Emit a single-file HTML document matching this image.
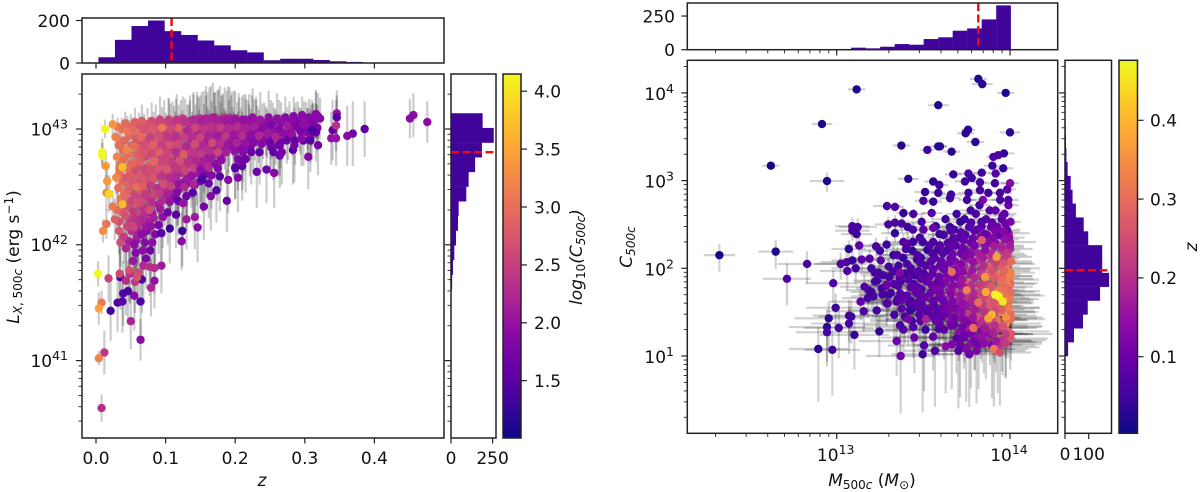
<!DOCTYPE html>
<html lang="en">
<head>
<meta charset="utf-8">
<title>Cluster scaling relations</title>
<style>
html,body{margin:0;padding:0;background:#fff;width:1200px;height:492px;overflow:hidden}
svg{display:block;font-family:"DejaVu Sans","Liberation Sans",sans-serif;fill:#111}
</style>
</head>
<body>
<svg id="figure" xmlns="http://www.w3.org/2000/svg" width="1200" height="492" viewBox="0 0 1200 492">
<defs>
<linearGradient id="plasma" x1="0" y1="1" x2="0" y2="0">
<stop offset="0" stop-color="#0d0887"/><stop offset="0.1" stop-color="#41049d"/><stop offset="0.2" stop-color="#6a00a8"/><stop offset="0.3" stop-color="#8f0da4"/><stop offset="0.4" stop-color="#b12a90"/><stop offset="0.5" stop-color="#cc4778"/><stop offset="0.6" stop-color="#e16462"/><stop offset="0.7" stop-color="#f2844b"/><stop offset="0.8" stop-color="#fca636"/><stop offset="0.9" stop-color="#fcce25"/><stop offset="1" stop-color="#f0f921"/>
</linearGradient>
</defs>
<g id="left-errors"></g>
<g id="right-errors"></g>
<g id="left-points"></g>
<g id="right-points"></g>
<g id="hists"></g>
<rect x="503" y="74" width="18" height="364" fill="url(#plasma)"/>
<rect x="1119" y="60.3" width="18.5" height="373" fill="url(#plasma)"/>
<g fill="none" stroke="#222" stroke-width="1.5">
<rect x="82" y="74" width="362" height="364"/>
<rect x="82" y="18" width="362" height="45"/>
<rect x="451" y="74" width="45" height="364"/>
<rect x="503" y="74" width="18" height="364"/>
<rect x="687.3" y="60.3" width="370.4" height="373"/>
<rect x="687.3" y="3" width="370.4" height="46.7"/>
<rect x="1065" y="60.3" width="46.5" height="373"/>
<rect x="1119" y="60.3" width="18.5" height="373"/>
</g>
<g id="ticks"></g>
<text transform="translate(19,257) rotate(-90)" text-anchor="middle" font-size="17"><tspan font-style="italic">L</tspan><tspan font-size="12" dy="3"><tspan font-style="italic">X</tspan>, 500<tspan font-style="italic">c</tspan></tspan><tspan dy="-3"> (erg s</tspan><tspan font-size="12" dy="-6">−1</tspan><tspan dy="6">)</tspan></text>
<text x="262" y="486" text-anchor="middle" font-size="17" font-style="italic">z</text>
<text transform="translate(582,257) rotate(-90)" text-anchor="middle" font-size="17" font-style="italic">log<tspan font-size="12" dy="3" font-style="normal">10</tspan><tspan dy="-3">(C</tspan><tspan font-size="12" dy="3">500c</tspan><tspan dy="-3">)</tspan></text>
<text transform="translate(632,247) rotate(-90)" text-anchor="middle" font-size="17" font-style="italic">C<tspan font-size="12" dy="3">500c</tspan></text>
<text x="872" y="486" text-anchor="middle" font-size="17"><tspan font-style="italic">M</tspan><tspan font-size="12" dy="3">500<tspan font-style="italic">c</tspan></tspan><tspan dy="-3"> (</tspan><tspan font-style="italic">M</tspan><tspan font-size="12" dy="3">⊙</tspan><tspan dy="-3">)</tspan></text>
<text transform="translate(1197,247) rotate(-90)" text-anchor="middle" font-size="17" font-style="italic">z</text>
</svg>
<script>
// Left panel: redshift, log10 luminosity, log10 C500c, log10 error
const lxRedshift = [
.15,.16,.17,.175,.18,.185,.19,.195,.205,.21,.105,.115,.125,.135,.145,.155,.165,.22,.225,.23,
.14,.148,.158,.168,.172,.178,.182,.192,.198,.215,.037,.035,.039,.036,.034,.038,.041,.036,.039,.033,
.05,.048,.052,.047,.051,.049,.053,.046,.05,.052,.049,.051,.047,.062,.064,.06,.063,.065,.059,.061,
.064,.06,.062,.065,.059,.063,.061,.058,.074,.076,.072,.075,.071,.077,.073,.076,.07,.074,.078,.072,
.076,.073,.086,.088,.084,.087,.083,.089,.085,.082,.088,.084,.09,.081,.098,.1,.096,.099,.095,.101,
.097,.102,.094,.099,.11,.112,.108,.113,.107,.111,.109,.114,.106,.11,.122,.124,.12,.125,.119,.123,
.121,.126,.118,.135,.133,.137,.132,.136,.134,.138,.131,.146,.148,.144,.149,.143,.147,.145,.15,.158,
.16,.156,.161,.155,.159,.157,.17,.172,.168,.173,.167,.171,.182,.184,.18,.185,.179,.194,.196,.192,
.197,.206,.208,.204,.209,.218,.22,.216,.221,.23,.232,.228,.242,.244,.24,.254,.256,.252,.266,.268,
.278,.28,.29,.292,.302,.304,.312,.276,.265,.252,.031,.028,.033,.030,.034,.029,.032,.036,.030,.027,
.033,.035,.042,.045,.041,.044,.040,.046,.043,.047,.041,.044,.042,.045,.040,.043,.056,.053,.058,.055,
.059,.054,.057,.052,.058,.055,.060,.053,.057,.054,.059,.055,.057,.053,.066,.069,.065,.07,.067,.064,
.07,.066,.068,.071,.065,.069,.067,.072,.066,.07,.067,.072,.068,.080,.083,.078,.082,.079,.084,.077,
.082,.078,.084,.08,.077,.083,.079,.085,.081,.078,.092,.095,.09,.094,.091,.096,.09,.093,.097,.091,
.095,.092,.096,.09,.094,.104,.107,.102,.106,.103,.108,.102,.105,.107,.103,.106,.116,.119,.114,.118,
.115,.12,.117,.114,.119,.116,.118,.103,.128,.131,.127,.13,.126,.132,.128,.131,.127,.13,.14,.143,
.138,.142,.139,.143,.14,.137,.142,.139,.152,.155,.15,.154,.151,.155,.15,.153,.163,.166,.162,.167,
.163,.165,.161,.166,.162,.176,.179,.174,.178,.175,.18,.175,.178,.188,.191,.186,.19,.187,.2,.203,
.198,.202,.199,.204,.2,.212,.215,.21,.214,.211,.215,.21,.224,.227,.222,.226,.223,.236,.239,.234,
.238,.235,.248,.251,.246,.25,.26,.263,.258,.262,.272,.275,.27,.274,.284,.287,.282,.286,.296,.299,
.294,.298,.306,.309,.304,.308,.316,.312,.322,.318,.013,.024,.009,.009,.014,.016,.015,.019,.038,.038,
.024,.015,.01,.003,.018,.008,.004,.021,.031,.038,.039,.046,.055,.064,.05,.064,.012,.004,.008,.035,
.043,.056,.066,.084,.079,.034,.049,.048,.061,.059,.094,.084,.077,.123,.476,.456,.451,.386,.369,.361,
.346,.346,.34,.345,.345,.338,.319,.305,.308,.316,.31,.319,.316,.283,.285,.267,.264,.295,.256,.245,
.204,.19,.231,.264,.188,.173,.146,.124,.142,.13,.106,.115,.14,.152,.2,.255,.21,.165,.155,.125
];
const lxLogLum = [
43.09,43.07,43.1,43.06,43.08,43.1,43.07,43.09,43.06,43.08,43.08,43.06,43.09,43.07,43.08,43.06,43.07,43.08,43.1,43.07,
43.08,43.07,43.09,43.1,43.06,43.08,43.07,43.09,43.07,43.08,43.0,42.9,42.82,42.7,42.62,42.54,42.45,42.36,42.28,42.2,
43.02,42.94,42.86,42.78,42.7,42.62,42.54,42.46,42.38,42.3,42.22,42.12,42.03,43.03,42.96,42.89,42.82,42.75,42.68,42.61,
42.54,42.47,42.4,42.33,42.26,42.19,42.12,42.04,43.04,42.97,42.9,42.83,42.76,42.69,42.62,42.55,42.48,42.41,42.34,42.27,
42.2,42.12,43.05,42.98,42.91,42.84,42.77,42.7,42.63,42.56,42.49,42.42,42.35,42.27,43.05,42.97,42.9,42.83,42.76,42.69,
42.62,42.55,42.48,42.4,43.04,42.97,42.9,42.83,42.76,42.69,42.62,42.55,42.48,42.41,43.05,42.98,42.91,42.84,42.77,42.7,
42.62,42.54,42.47,43.05,42.98,42.9,42.83,42.76,42.69,42.61,42.53,43.05,42.97,42.9,42.83,42.76,42.69,42.62,42.55,43.04,
42.97,42.9,42.83,42.76,42.69,42.61,43.05,42.98,42.91,42.84,42.77,42.7,43.05,42.98,42.91,42.84,42.77,43.05,42.98,42.91,
42.84,43.05,42.98,42.91,42.84,43.05,42.98,42.91,42.84,43.05,42.98,42.91,43.05,42.98,42.91,43.05,42.98,42.91,43.05,42.97,
43.06,42.99,43.07,43.0,43.07,43.0,43.04,42.93,42.89,42.84,43.02,42.93,42.86,42.76,42.66,42.58,42.49,42.40,42.30,42.22,
42.12,42.02,43.05,42.98,42.90,42.82,42.74,42.66,42.58,42.50,42.42,42.34,42.25,42.16,42.07,41.97,43.06,42.99,42.92,42.85,
42.78,42.71,42.64,42.57,42.5,42.43,42.36,42.29,42.22,42.15,42.07,42.0,41.93,41.86,43.07,43.0,42.93,42.86,42.79,42.72,
42.65,42.58,42.51,42.44,42.37,42.3,42.23,42.16,42.09,42.02,41.95,41.88,41.82,43.07,43.0,42.93,42.86,42.79,42.72,42.65,
42.58,42.51,42.44,42.37,42.3,42.23,42.16,42.09,42.02,41.95,43.08,43.01,42.94,42.87,42.8,42.73,42.66,42.59,42.52,42.45,
42.38,42.31,42.24,42.17,42.1,43.07,43.0,42.93,42.86,42.79,42.72,42.65,42.58,42.51,42.44,42.37,43.08,43.01,42.94,42.87,
42.8,42.73,42.66,42.59,42.52,42.45,42.38,42.28,43.06,42.99,42.92,42.85,42.78,42.71,42.64,42.57,42.5,42.42,43.08,43.01,
42.94,42.87,42.8,42.73,42.66,42.59,42.52,42.45,43.07,43.0,42.93,42.86,42.79,42.72,42.65,42.58,43.09,43.02,42.95,42.88,
42.81,42.74,42.67,42.6,42.53,43.08,43.01,42.94,42.87,42.8,42.73,42.66,42.59,43.08,43.01,42.94,42.87,42.8,43.09,43.02,
42.95,42.88,42.81,42.74,42.67,43.08,43.01,42.94,42.87,42.8,42.74,42.68,43.09,43.02,42.95,42.88,42.8,43.08,43.01,42.94,
42.87,42.8,43.1,43.03,42.96,42.88,43.09,43.0,42.93,42.86,43.1,43.03,42.96,42.9,43.11,43.03,42.95,42.9,43.12,43.05,
42.98,42.9,43.1,43.03,42.97,42.93,43.12,43.06,43.09,43.01,43.0,43.04,42.8,42.77,42.68,42.55,42.45,42.44,42.67,42.35,
42.33,42.18,42.12,41.75,41.71,41.5,41.45,41.43,41.5,41.51,41.58,41.6,41.56,41.51,41.34,41.18,41.07,41.02,40.59,41.72,
41.69,41.68,41.7,41.69,41.63,41.75,41.75,41.78,41.76,41.72,41.82,41.8,41.81,42.03,43.06,43.12,43.09,43.0,42.96,42.94,
43.135,43.1,42.99,43.03,42.92,42.92,42.86,42.76,42.9,42.97,42.99,43.11,43.13,42.82,42.86,42.8,42.86,42.92,42.62,42.65,
42.58,42.56,42.63,42.77,42.38,42.47,42.15,42.12,42.24,42.22,42.14,42.26,42.52,42.56,42.66,42.8,42.72,42.42,42.33,42.36
];
const lxLogConc = [
2.3,2.2,2.4,2.1,2.2,2.3,2.1,2.2,2.0,2.1,2.5,2.4,2.4,2.3,2.3,2.2,2.3,2.0,2.0,2.1,
2.2,2.3,2.2,2.1,2.3,2.2,2.1,2.2,2.0,2.1,3.0,3.1,2.95,3.05,3.0,2.9,3.05,2.85,2.75,2.65,
2.9,2.95,2.85,3.0,2.85,2.8,2.65,2.9,2.55,2.65,2.45,2.3,2.15,2.75,2.9,2.7,2.8,2.95,2.7,2.85,
2.65,2.8,2.5,2.45,2.55,2.25,2.15,1.95,2.7,2.8,2.55,2.75,2.6,2.85,2.6,2.65,2.7,2.45,2.5,2.25,
2.15,1.9,2.6,2.5,2.75,2.55,2.7,2.4,2.6,2.7,2.35,2.55,2.15,2.05,2.55,2.45,2.7,2.5,2.45,2.65,
2.4,2.55,2.25,2.15,2.45,2.6,2.4,2.5,2.7,2.35,2.45,2.15,2.25,1.85,2.4,2.55,2.3,2.45,2.25,2.55,
2.25,2.05,1.95,2.35,2.45,2.25,2.5,2.3,2.45,2.05,1.85,2.3,2.15,2.4,2.25,2.45,2.15,2.05,1.75,2.25,
2.35,2.15,2.4,2.05,2.15,1.85,2.2,2.25,2.35,2.1,2.15,1.9,2.15,2.1,2.25,2.05,1.95,2.05,2.15,2.05,
1.95,2.05,2.1,1.95,1.85,2.0,2.05,1.95,1.8,2.0,1.95,1.75,1.95,2.05,1.85,1.9,2.0,1.75,1.95,1.85,
1.9,1.95,1.85,1.9,1.9,1.85,1.85,1.8,1.75,1.7,3.05,3.15,3.0,3.2,3.05,3.25,3.0,3.1,2.95,2.85,
2.75,2.65,2.95,3.1,2.9,3.2,3.0,2.95,2.75,2.85,2.95,2.65,2.7,2.55,2.45,2.2,2.85,2.95,2.75,3.0,
2.85,2.95,2.65,2.8,3.0,2.55,2.7,2.45,2.35,2.55,2.15,1.95,1.85,2.05,2.85,2.7,2.95,2.65,2.75,2.85,
2.55,2.75,2.85,2.45,2.6,2.35,2.25,2.05,1.95,1.85,1.95,1.75,2.25,2.65,2.75,2.5,2.85,2.6,2.9,2.65,
2.75,2.45,2.55,2.3,2.65,2.15,2.0,1.85,1.95,1.7,2.55,3.1,2.65,2.5,2.85,2.55,2.75,2.4,2.65,2.45,
2.25,2.1,1.95,1.75,1.5,2.5,2.6,2.4,2.7,2.55,2.45,2.75,2.3,2.5,2.15,2.0,2.4,2.85,2.35,2.6,
2.3,2.7,2.45,2.25,2.0,1.85,1.55,1.7,2.35,2.25,2.5,2.25,2.8,2.35,2.55,2.1,2.25,1.7,2.25,2.55,
2.3,2.65,2.4,2.25,2.5,2.0,1.9,1.5,2.15,2.4,2.55,2.25,2.45,2.15,1.95,1.45,2.2,2.35,2.2,2.6,
2.3,2.1,2.25,1.85,1.65,2.15,2.45,2.1,2.3,2.55,1.95,1.8,1.5,2.1,2.25,2.4,2.05,2.15,2.05,2.3,
2.05,2.2,1.95,1.8,1.55,2.0,2.15,2.3,2.0,1.85,1.7,1.5,2.0,2.15,1.95,1.85,1.65,2.05,1.9,2.25,
1.85,1.5,1.95,1.8,2.1,1.65,1.95,1.85,2.2,1.7,1.85,2.1,1.95,1.65,1.85,1.8,2.0,1.6,1.9,1.95,
1.75,1.6,1.85,1.95,1.8,1.85,1.9,1.8,1.85,1.75,4.1,3.35,4.15,4.15,3.4,3.4,3.3,3.9,3.7,3.7,
3.1,3.05,3.3,4.15,2.5,3.1,3.5,1.3,1.4,1.5,1.45,1.4,1.9,1.4,2.2,1.9,2.4,3.2,2.3,1.4,
2.3,2.4,1.4,2.0,2.2,2.6,2.3,2.7,2.6,2.7,2.1,2.3,2.3,1.9,1.9,1.9,1.9,1.55,1.7,1.9,
2.0,1.5,1.55,2.35,2.0,2.0,1.7,1.85,1.5,1.6,1.4,1.9,1.9,1.5,1.7,1.8,1.7,1.9,1.85,1.7,
1.85,1.85,1.7,1.7,1.6,1.5,1.9,1.3,2.1,2.1,1.3,1.5,2.2,1.4,1.5,1.55,1.7,1.85,1.75,2.0
];
const lxLogErr = [
.2,.25,.22,.28,.21,.26,.3,.23,.25,.2,.18,.2,.19,.22,.24,.27,.3,.22,.25,.21,
.24,.2,.28,.3,.26,.29,.24,.27,.26,.22,.1,.13,.11,.15,.12,.14,.16,.13,.17,.15,
.11,.14,.12,.16,.13,.17,.15,.19,.16,.2,.22,.26,.24,.11,.14,.12,.16,.13,.17,.15,
.19,.16,.2,.18,.24,.21,.28,.25,.14,.12,.16,.13,.18,.15,.2,.17,.22,.19,.25,.21,
.28,.24,.16,.13,.17,.14,.18,.15,.2,.17,.23,.19,.26,.22,.2,.17,.19,.16,.21,.18,
.23,.2,.27,.24,.2,.23,.18,.21,.19,.24,.22,.27,.23,.29,.2,.18,.22,.19,.24,.21,
.26,.23,.3,.2,.23,.19,.24,.21,.26,.22,.29,.24,.2,.23,.19,.25,.21,.28,.24,.25,
.22,.19,.25,.21,.27,.24,.26,.22,.2,.24,.21,.27,.24,.2,.23,.19,.26,.24,.21,.23,
.25,.22,.2,.24,.21,.2,.23,.19,.25,.2,.22,.18,.18,.21,.17,.18,.2,.17,.18,.16,
.18,.16,.17,.19,.16,.18,.18,.2,.23,.24,.08,.1,.11,.12,.13,.14,.15,.15,.17,.18,
.2,.21,.1,.13,.11,.12,.14,.16,.15,.17,.16,.19,.2,.22,.23,.24,.12,.11,.13,.14,
.15,.14,.16,.15,.18,.17,.19,.2,.22,.21,.25,.23,.27,.28,.14,.13,.15,.14,.16,.15,
.17,.16,.18,.17,.2,.18,.21,.22,.26,.24,.28,.26,.3,.16,.15,.17,.16,.18,.17,.19,
.18,.2,.19,.22,.21,.24,.23,.27,.26,.28,.2,.18,.19,.17,.2,.18,.21,.19,.22,.2,
.23,.22,.27,.25,.3,.2,.22,.19,.21,.2,.23,.21,.25,.24,.28,.26,.22,.2,.21,.19,
.23,.21,.25,.23,.27,.29,.3,.28,.2,.22,.19,.21,.23,.22,.25,.24,.26,.3,.22,.2,
.21,.23,.22,.25,.24,.27,.28,.3,.25,.22,.2,.23,.24,.27,.28,.3,.27,.22,.21,.24,
.25,.23,.26,.29,.3,.26,.22,.2,.23,.24,.27,.28,.3,.25,.24,.22,.25,.26,.24,.21,
.2,.23,.24,.27,.28,.22,.25,.21,.24,.26,.29,.3,.2,.24,.22,.25,.28,.24,.21,.23,
.24,.28,.23,.22,.21,.26,.22,.25,.24,.26,.18,.16,.19,.2,.17,.2,.18,.21,.16,.19,
.2,.22,.16,.18,.21,.22,.2,.17,.18,.2,.08,.09,.12,.11,.14,.13,.15,.16,.14,.15,
.14,.13,.1,.11,.2,.1,.14,.26,.25,.27,.28,.26,.3,.29,.24,.18,.19,.06,.12,.28,
.3,.27,.29,.24,.25,.28,.26,.27,.24,.23,.24,.22,.25,.25,.18,.19,.17,.24,.28,.26,
.2,.19,.26,.22,.24,.23,.26,.28,.27,.25,.26,.2,.21,.3,.32,.28,.27,.24,.3,.29,
.3,.29,.31,.28,.27,.28,.3,.31,.28,.26,.3,.29,.28,.27,.26,.24,.25,.3,.29,.31
];
const lxTopCounts = [27,109,174,200,150,132,106,83,60,50,13,20,20,14,8,5,0,1,2,1];
const lxSideCounts = [190,257,186,145,106,92,46,42,30,20,12,7,3,1,1,1,0,1,1,1];
const lxMedianZ = [0.1086];
const lxMedianLum = [42.8];
const lxXTicks = [0, 0.1, 0.2, 0.3, 0.4];
const lxXTickLabels = ["0.0", "0.1", "0.2", "0.3", "0.4"];
const lxYTicks = [41, 42, 43];
const lxYTickLabels = ["41", "42", "43"];
const lxCbarTicks = [1.5, 2, 2.5, 3, 3.5, 4];
const lxCbarLabels = ["1.5", "2.0", "2.5", "3.0", "3.5", "4.0"];
const lxTopTicks = [0, 200];
const lxTopLabels = ["0", "200"];
const lxSideTicks = [0, 250];
const lxSideLabels = ["0", "250"];

// Right panel: log10 mass, log10 C500c, redshift, log10 x error, relative y error
const cLogMass = [
13.992,14.001,13.983,14.004,13.987,13.971,13.998,13.978,13.994,14.003,
13.999,13.986,13.973,14.002,13.981,13.997,13.989,13.962,14.005,13.975,
13.991,13.968,14.003,13.982,13.995,13.999,13.972,14.006,13.979,13.996,
13.984,14.002,13.966,13.993,14.004,13.977,13.988,14.001,13.943,13.916,
13.952,13.927,13.938,13.914,13.956,13.931,13.947,13.922,13.949,13.935,
13.941,13.918,13.953,13.926,13.944,13.912,13.958,13.929,13.883,13.862,
13.891,13.868,13.877,13.855,13.894,13.873,13.885,13.859,13.888,13.866,
13.879,13.857,13.893,13.871,13.884,13.861,13.896,13.824,13.803,13.835,
13.812,13.829,13.797,13.818,13.806,13.833,13.794,13.826,13.808,13.837,
13.801,13.822,13.813,13.831,13.796,13.819,13.807,13.752,13.773,13.738,
13.764,13.742,13.776,13.748,13.757,13.736,13.771,13.746,13.761,13.744,
13.768,13.753,13.759,13.734,13.774,13.747,13.692,13.713,13.677,13.704,
13.686,13.717,13.682,13.698,13.694,13.708,13.674,13.702,13.688,13.716,
13.679,13.706,13.691,13.712,13.628,13.653,13.617,13.642,13.633,13.657,
13.622,13.638,13.627,13.649,13.614,13.644,13.631,13.655,13.619,13.572,
13.593,13.557,13.582,13.566,13.596,13.553,13.584,13.569,13.591,13.561,
13.578,13.574,13.588,13.556,13.497,13.523,13.486,13.514,13.503,13.518,
13.489,13.508,13.494,13.526,13.483,13.512,13.437,13.463,13.428,13.452,
13.443,13.458,13.426,13.447,13.434,13.382,13.357,13.393,13.368,13.327,
13.957,13.973,13.964,13.969,13.952,13.977,13.961,13.966,13.955,13.972,
13.963,13.968,13.951,13.976,13.959,13.974,13.953,13.897,13.914,13.903,
13.908,13.893,13.917,13.899,13.912,13.894,13.906,13.902,13.915,13.896,
13.911,13.905,13.918,13.836,13.853,13.842,13.857,13.844,13.848,13.834,
13.856,13.846,13.851,13.839,13.854,13.843,13.858,13.837,13.849,13.776,
13.794,13.785,13.792,13.774,13.787,13.783,13.796,13.777,13.789,13.781,
13.793,13.786,13.788,13.775,13.795,13.716,13.733,13.724,13.737,13.718,
13.728,13.722,13.735,13.714,13.726,13.719,13.731,13.725,13.738,13.657,
13.673,13.662,13.669,13.654,13.676,13.664,13.671,13.659,13.667,13.652,
13.678,13.661,13.596,13.613,13.604,13.617,13.593,13.607,13.598,13.616,
13.602,13.611,13.594,13.537,13.552,13.544,13.557,13.533,13.548,13.541,
13.554,13.535,13.556,13.466,13.484,13.473,13.487,13.464,13.478,13.469,
13.486,13.406,13.424,13.413,13.427,13.404,13.418,13.346,13.363,13.354,
13.367,13.352,13.303,13.284,13.312,13.293,13.242,13.264,13.221,13.184,
13.115,13.586,12.915,12.62,12.944,13.373,13.523,13.586,13.413,13.557,
13.51,13.5,13.29,13.336,13.385,13.442,13.817,13.84,13.975,13.758,
13.744,14.0,13.8,13.596,13.663,13.965,13.932,13.904,13.898,13.961,
13.673,13.76,13.837,13.917,13.592,13.74,13.779,13.827,14.0,13.913,
13.984,13.586,13.654,13.66,13.76,13.827,13.875,13.942,13.844,13.99,
12.323,12.648,12.829,12.713,13.023,12.98,12.994,12.954,12.944,12.944,
13.012,12.894,12.975,13.071,13.084,13.071,13.102,13.246,13.231,13.156,
13.346,13.369,13.448,13.496,13.504,13.567,13.629,13.664,13.702,13.765,
13.907,13.942,13.975,13.061,13.11,13.2,13.057,13.09,13.144,13.13,
13.07,13.227,13.288,13.19,13.254,13.16,13.138,13.18,13.212,13.2,
13.234,13.26,13.288,13.3,13.288,13.332,13.346,13.375,13.375,13.423,
13.394,13.413,13.365,13.385,13.442,13.515,13.477,13.327,13.365,13.09,
13.121,13.09,13.115,13.298,13.336,13.375,13.336,13.41,13.44,13.5,
13.49,13.557,13.548,13.557,13.385,13.41,13.664,13.75,13.923,13.856,
13.86,14.0,13.837,13.895,13.875,13.977,13.788,13.817,13.913,13.935,
13.958,13.3,13.33,13.27,13.25,13.4,13.44,13.22,13.35,13.48
];
const cLogConc = [
2.4,2.22,2.05,1.95,1.87,1.78,1.69,1.6,1.5,1.42,2.3,2.13,2.0,1.83,1.74,1.65,1.55,1.33,1.25,1.16,
2.72,2.62,2.53,2.44,2.35,2.26,2.17,2.08,1.99,1.91,1.82,1.73,1.64,1.55,1.46,1.37,1.28,1.2,2.78,2.66,
2.56,2.47,2.38,2.29,2.2,2.11,2.02,1.93,1.84,1.75,1.66,1.57,1.5,1.41,1.32,1.25,1.18,1.1,2.66,2.56,
2.47,2.38,2.29,2.2,2.11,2.02,1.93,1.84,1.75,1.66,1.57,1.5,1.41,1.32,1.25,1.18,1.12,2.72,2.62,2.53,
2.44,2.35,2.26,2.17,2.08,1.99,1.9,1.81,1.72,1.63,1.54,1.45,1.36,1.27,1.2,1.13,1.06,2.78,2.66,2.56,
2.47,2.38,2.29,2.2,2.11,2.02,1.93,1.84,1.66,1.57,1.48,1.39,1.3,1.21,1.14,1.08,2.62,2.53,2.44,2.35,
2.26,2.17,2.08,1.99,1.9,1.81,1.72,1.63,1.54,1.45,1.36,1.27,1.2,1.13,2.56,2.47,2.38,2.29,2.2,2.11,
2.02,1.93,1.84,1.75,1.66,1.57,1.48,1.39,1.3,2.48,2.39,2.3,2.21,2.12,2.03,1.94,1.85,1.76,1.67,1.58,
1.49,1.4,1.31,1.22,2.3,2.21,2.12,2.03,1.94,1.85,1.76,1.67,1.58,1.49,1.4,1.3,2.2,2.1,2.0,1.92,
1.82,1.72,1.63,1.55,1.4,2.12,2.03,1.94,1.85,2.15,2.6,2.51,2.42,2.33,2.24,2.15,2.06,1.97,1.88,1.79,
1.7,1.61,1.52,1.43,1.34,1.25,1.16,2.52,2.43,2.34,2.25,2.16,2.07,1.98,1.89,1.8,1.71,1.62,1.53,1.44,
1.35,1.26,1.17,2.48,2.39,2.3,2.21,2.12,2.03,1.94,1.85,1.76,1.67,1.58,1.49,1.4,1.31,1.22,1.14,2.52,
2.43,2.34,2.25,2.16,2.07,1.98,1.89,1.8,1.71,1.62,1.53,1.44,1.35,1.26,1.17,2.41,2.32,2.23,2.14,2.05,
1.96,1.87,1.78,1.69,1.6,1.51,1.42,1.33,1.24,2.43,2.34,2.25,2.16,2.07,1.98,1.89,1.8,1.71,1.62,1.53,
1.44,1.35,2.26,2.17,2.08,1.99,1.9,1.81,1.72,1.63,1.54,1.45,1.36,2.26,2.17,2.08,1.99,1.9,1.81,1.72,
1.63,1.54,1.45,2.15,2.06,1.97,1.88,1.79,1.7,1.61,1.52,2.05,1.96,1.87,1.78,1.69,1.6,1.98,1.89,1.8,
1.71,1.65,1.9,1.8,1.72,1.6,1.95,1.7,1.85,1.75,4.04,3.86,3.645,3.17,2.995,3.4,3.35,3.39,3.02,2.99,
2.87,2.77,2.71,2.7,2.63,2.62,4.16,4.1,4.0,3.58,3.54,3.55,3.44,3.39,3.33,3.31,3.29,3.27,3.17,3.14,
3.07,3.08,3.09,3.08,2.95,2.99,3.03,2.98,2.97,2.97,2.9,2.86,2.8,2.84,2.86,2.89,2.86,2.86,2.78,2.78,
2.15,2.19,2.05,1.88,2.05,1.83,1.55,1.43,1.33,1.27,1.32,1.08,1.07,1.46,1.45,1.37,1.24,1.28,1.52,1.51,
1.17,1.0,1.21,1.02,1.12,1.06,1.11,1.13,1.06,1.02,1.08,1.04,1.14,1.97,2.0,2.0,2.07,2.09,2.1,2.26,
2.22,2.25,2.27,2.11,2.09,1.79,1.62,1.66,1.68,1.73,1.86,1.77,1.81,1.7,1.6,1.47,1.62,1.64,1.54,1.52,
1.45,1.42,1.35,1.3,1.33,1.42,1.47,1.96,1.95,2.48,2.47,2.43,2.39,2.5,2.52,2.51,2.4,2.47,2.44,2.44,
2.53,2.46,2.63,2.76,2.3,2.28,1.96,1.75,2.13,1.9,1.73,1.91,2.32,1.47,1.43,1.44,1.32,1.61,1.7,1.68,
1.62,2.02,1.82,1.92,2.2,2.22,2.3,1.95,2.15,2.35
];
const cRedshift = [
.15,.2,.28,.33,.33,.32,.33,.31,.33,.3,.15,.22,.28,.3,.33,.32,.3,.28,.26,.24,
.1,.08,.12,.09,.14,.17,.24,.3,.33,.35,.33,.3,.36,.32,.3,.33,.28,.27,.06,.09,
.07,.11,.09,.14,.22,.2,.28,.31,.3,.32,.33,.28,.34,.3,.22,.25,.2,.2,.07,.08,
.1,.12,.13,.2,.22,.28,.27,.3,.26,.29,.27,.2,.27,.22,.14,.18,.12,.05,.07,.06,
.09,.12,.14,.17,.2,.18,.26,.22,.24,.3,.18,.25,.2,.13,.16,.1,.12,.05,.06,.05,
.08,.07,.11,.12,.16,.2,.17,.26,.2,.16,.22,.12,.17,.1,.14,.13,.05,.04,.06,.07,
.08,.1,.13,.16,.13,.15,.2,.17,.12,.16,.1,.14,.08,.1,.05,.04,.06,.07,.06,.09,
.1,.12,.13,.15,.16,.11,.1,.14,.08,.04,.05,.06,.05,.07,.1,.09,.08,.12,.1,.07,
.08,.1,.06,.09,.05,.04,.05,.07,.06,.09,.07,.1,.08,.06,.07,.05,.04,.05,.06,.05,
.06,.09,.05,.07,.05,.04,.05,.04,.06,.04,.09,.1,.13,.15,.18,.22,.26,.29,.3,.3,
.31,.3,.28,.27,.26,.22,.2,.09,.12,.13,.17,.19,.23,.25,.27,.27,.27,.26,.25,.24,
.2,.18,.16,.08,.1,.12,.14,.17,.2,.22,.23,.23,.24,.22,.21,.2,.17,.15,.14,.07,
.08,.1,.12,.13,.15,.16,.19,.2,.19,.18,.17,.16,.14,.12,.11,.08,.09,.1,.12,.13,
.14,.16,.16,.16,.15,.14,.13,.11,.1,.07,.08,.09,.1,.11,.12,.13,.13,.13,.12,.12,
.11,.1,.08,.08,.09,.1,.1,.11,.11,.1,.1,.09,.09,.07,.07,.08,.09,.09,.1,.1,
.09,.09,.08,.07,.07,.08,.08,.09,.09,.08,.08,.07,.07,.08,.08,.08,.07,.06,.07,.07,
.07,.07,.06,.07,.06,.07,.06,.06,.07,.06,.02,.02,.02,.01,.015,.03,.05,.03,.03,.03,
.04,.06,.06,.07,.04,.06,.02,.03,.02,.03,.03,.03,.03,.03,.03,.04,.06,.07,.05,.04,
.04,.06,.05,.07,.05,.05,.05,.06,.13,.05,.08,.04,.05,.05,.05,.06,.05,.06,.12,.07,
.01,.02,.06,.07,.07,.07,.05,.03,.03,.06,.05,.03,.05,.05,.05,.06,.04,.04,.05,.07,
.1,.11,.1,.05,.07,.07,.14,.12,.07,.1,.32,.25,.22,.07,.05,.05,.07,.04,.08,.08,
.03,.06,.05,.07,.08,.07,.09,.06,.06,.05,.05,.06,.1,.05,.07,.06,.06,.09,.08,.05,
.06,.12,.06,.07,.07,.18,.07,.06,.13,.06,.06,.06,.05,.06,.07,.06,.04,.05,.06,.08,
.05,.1,.07,.04,.07,.09,.3,.33,.37,.36,.38,.33,.28,.4,.38,.35,.3,.3,.47,.47,
.45,.06,.07,.06,.05,.06,.05,.06,.07,.05
];
const cMassErr = [
.12,.13,.16,.14,.18,.12,.2,.15,.17,.2,.15,.14,.2,.16,.19,.17,.18,.22,.24,.21,
.06,.07,.06,.08,.09,.08,.11,.12,.14,.13,.16,.14,.17,.18,.15,.2,.24,.22,.05,.06,
.07,.06,.09,.08,.1,.12,.11,.14,.13,.15,.17,.16,.19,.18,.21,.22,.25,.24,.06,.07,
.08,.07,.1,.09,.12,.11,.14,.13,.16,.15,.18,.17,.2,.23,.22,.26,.25,.06,.07,.06,
.09,.08,.1,.09,.12,.11,.14,.13,.16,.15,.19,.18,.21,.2,.24,.25,.28,.05,.07,.06,
.08,.09,.08,.11,.1,.13,.12,.15,.16,.18,.17,.21,.2,.25,.24,.28,.06,.08,.07,.09,
.08,.11,.1,.13,.12,.15,.14,.18,.17,.21,.2,.25,.24,.27,.08,.07,.09,.08,.11,.1,
.13,.12,.15,.14,.17,.16,.21,.2,.24,.07,.09,.08,.11,.1,.13,.12,.16,.14,.19,.18,
.22,.2,.25,.23,.1,.09,.12,.11,.15,.13,.18,.16,.21,.19,.25,.23,.11,.1,.13,.12,
.16,.14,.19,.17,.24,.13,.12,.16,.15,.1,.07,.06,.09,.08,.13,.12,.17,.15,.18,.16,
.21,.17,.19,.18,.23,.16,.2,.08,.07,.09,.1,.09,.12,.11,.14,.13,.15,.14,.17,.16,
.19,.17,.21,.09,.07,.1,.09,.11,.1,.13,.11,.14,.13,.15,.14,.17,.15,.19,.17,.08,
.07,.09,.08,.11,.09,.12,.11,.13,.12,.15,.14,.17,.15,.19,.17,.09,.07,.1,.09,.12,
.1,.13,.12,.15,.14,.16,.14,.18,.17,.08,.07,.1,.09,.11,.1,.13,.11,.14,.13,.16,
.15,.18,.09,.08,.11,.09,.12,.11,.14,.12,.16,.15,.18,.09,.08,.11,.09,.12,.11,.14,
.13,.16,.15,.1,.09,.11,.1,.13,.12,.15,.14,.11,.09,.12,.11,.14,.13,.11,.1,.13,
.12,.15,.1,.13,.12,.15,.09,.14,.1,.13,.05,.06,.06,.05,.1,.05,.04,.05,.06,.05,
.06,.05,.08,.05,.04,.07,.05,.06,.05,.04,.05,.06,.05,.04,.05,.06,.05,.04,.05,.06,
.05,.06,.05,.04,.05,.06,.05,.04,.05,.06,.05,.04,.06,.07,.06,.05,.06,.07,.08,.06,
.09,.1,.17,.14,.15,.16,.17,.2,.22,.18,.2,.17,.16,.21,.19,.22,.2,.18,.16,.21,
.22,.2,.19,.18,.21,.18,.17,.2,.19,.22,.2,.18,.21,.16,.14,.1,.15,.12,.13,.09,
.1,.11,.1,.12,.09,.14,.18,.15,.13,.12,.14,.15,.13,.16,.18,.2,.17,.19,.2,.21,
.19,.22,.21,.24,.22,.23,.2,.12,.13,.1,.11,.1,.09,.08,.07,.09,.08,.07,.09,.08,
.07,.08,.06,.05,.09,.1,.12,.16,.11,.12,.16,.13,.08,.2,.19,.21,.22,.17,.16,.15,
.16,.12,.14,.13,.1,.11,.09,.12,.1,.08
];
const cConcRelErr = [
.2,.22,.19,.3,.25,.31,.28,.33,.35,.4,.21,.3,.27,.32,.29,.34,.41,.45,.5,.6,
.12,.15,.14,.19,.2,.23,.22,.27,.26,.31,.29,.33,.35,.38,.41,.46,.5,.56,.12,.14,
.16,.15,.19,.2,.23,.22,.26,.29,.28,.33,.35,.37,.4,.43,.47,.53,.6,.7,.14,.16,
.15,.19,.18,.23,.22,.27,.26,.31,.3,.35,.37,.41,.43,.47,.56,.64,.75,.13,.16,.15,
.19,.18,.23,.22,.27,.26,.31,.29,.35,.34,.39,.41,.49,.5,.56,.69,.75,.12,.15,.14,
.17,.19,.18,.23,.22,.27,.26,.31,.33,.37,.4,.46,.5,.56,.69,.75,.13,.16,.17,.21,
.2,.25,.24,.29,.28,.33,.32,.37,.36,.43,.47,.53,.6,.75,.14,.17,.16,.21,.2,.25,
.24,.29,.28,.33,.32,.39,.41,.47,.54,.15,.19,.18,.23,.22,.27,.26,.31,.33,.37,.39,
.43,.45,.51,.59,.19,.23,.22,.27,.26,.31,.33,.37,.39,.43,.45,.51,.21,.25,.24,.29,
.31,.33,.37,.39,.47,.23,.27,.26,.31,.23,.11,.15,.15,.19,.19,.23,.23,.27,.27,.31,
.29,.33,.33,.39,.41,.47,.54,.14,.17,.17,.21,.21,.25,.25,.29,.29,.31,.31,.37,.37,
.45,.49,.56,.15,.19,.19,.23,.23,.27,.27,.31,.29,.33,.33,.39,.41,.47,.49,.54,.13,
.17,.17,.21,.21,.25,.25,.29,.29,.33,.33,.39,.41,.47,.49,.54,.15,.19,.19,.23,.23,
.27,.27,.31,.31,.35,.37,.43,.45,.51,.15,.19,.19,.23,.23,.27,.27,.31,.31,.35,.37,
.43,.45,.19,.23,.23,.27,.27,.31,.31,.35,.37,.43,.45,.19,.23,.23,.27,.27,.31,.31,
.35,.37,.43,.21,.25,.25,.29,.29,.33,.33,.37,.23,.27,.27,.31,.31,.35,.25,.29,.29,
.33,.33,.27,.31,.31,.37,.25,.33,.27,.31,.05,.06,.06,.07,.25,.08,.09,.07,.1,.11,
.1,.12,.13,.11,.15,.14,.05,.06,.05,.06,.07,.06,.05,.06,.08,.07,.09,.08,.07,.08,
.09,.08,.07,.09,.1,.11,.1,.09,.1,.11,.1,.09,.12,.13,.1,.11,.09,.1,.12,.13,
.35,.36,.4,.5,.34,.41,.45,.55,.6,.59,.55,.75,.7,.5,.51,.55,.6,.49,.4,.41,
.6,.78,.61,.78,.7,.77,.71,.69,.78,.75,.78,.75,.6,.4,.35,.31,.3,.29,.31,.25,
.26,.25,.24,.3,.25,.35,.39,.41,.36,.34,.35,.36,.34,.4,.45,.5,.41,.39,.5,.49,
.51,.5,.55,.54,.56,.5,.49,.28,.27,.25,.26,.24,.25,.22,.23,.21,.22,.2,.21,.19,
.2,.21,.15,.12,.24,.23,.28,.34,.25,.27,.34,.29,.2,.42,.43,.41,.5,.36,.32,.33,
.34,.26,.3,.28,.22,.24,.2,.29,.23,.21
];
const cTopCounts = [1,0,1,1,0,1,3,5,5,15,10,22,42,37,79,92,141,158,225,329];
const cSideCounts = [13,38,76,96,148,186,157,157,98,79,46,32,24,11,6,4,3,2,1,2];
const cMedianMass = [13.817];
const cMedianConc = [1.977];
const cXTicks = [13, 14];
const cXTickLabels = ["13", "14"];
const cYTicks = [1, 2, 3, 4];
const cYTickLabels = ["1", "2", "3", "4"];
const cCbarTicks = [0.1, 0.2, 0.3, 0.4];
const cCbarLabels = ["0.1", "0.2", "0.3", "0.4"];
const cTopTicks = [0, 250];
const cTopLabels = ["0", "250"];
const cSideTicks = [0, 100];
const cSideLabels = ["0", "100"];
const plasmaStops = ["#0d0887","#41049d","#6a00a8","#8f0da4","#b12a90","#cc4778","#e16462","#f2844b","#fca636","#fcce25","#f0f921"];

// Axis functions
const xL = z => 96 + z * 696;
const yL = l => 129 + (43 - l) * 115.8;
const cbL = c => 380.7 - (c - 1.5) * 115.8;
const xR = m => 836.7 + (m - 13) * 173.3;
const yR = c => 356 - (c - 1) * 87.7;
const cbR = z => 356.7 - (z - 0.1) * 788;
const lxTopY = n => 63 - n * 0.2125;
const lxSideX = n => 451 + n * 0.1664;
const cTopY = n => 49.7 - n * 0.1347;
const cSideX = n => 1065 + n * 0.237;
const POINT_RADIUS = 4.2;

const NS = "http://www.w3.org/2000/svg";
function mk(parentId, tag, attrs) {
  const el = document.createElementNS(NS, tag);
  for (const k in attrs) el.setAttribute(k, attrs[k]);
  document.getElementById(parentId).appendChild(el);
  return el;
}
function plasma(t) {
  t = Math.max(0, Math.min(1, t)) * (plasmaStops.length - 1);
  const i = Math.min(plasmaStops.length - 2, Math.floor(t)), f = t - i;
  const a = parseInt(plasmaStops[i].slice(1), 16), b = parseInt(plasmaStops[i + 1].slice(1), 16);
  const mix = s => Math.round(((a >> s) & 255) * (1 - f) + ((b >> s) & 255) * f);
  return "rgb(" + mix(16) + "," + mix(8) + "," + mix(0) + ")";
}
function tickLine(x1, y1, x2, y2, w) {
  const el = mk("ticks", "line", {x1: x1, y1: y1, x2: x2, y2: y2, stroke: "#222", "stroke-width": w || 1.2});
  
  
}
function label(x, y, str, anchor) {
  const el = mk("ticks", "text", {x: x, y: y, "text-anchor": anchor, "font-size": 17});
  el.textContent = str;
  
  
}
function powLabel(x, y, exp, anchor) {
  const el = mk("ticks", "text", {x: x, y: y, "text-anchor": anchor, "font-size": 17});
  
  
  const a = document.createElementNS(NS, "tspan");
  a.textContent = "10";
  const b = document.createElementNS(NS, "tspan");
  b.setAttribute("font-size", "12.5");
  b.setAttribute("dy", "-7");
  b.textContent = exp;
  el.appendChild(a);
  el.appendChild(b);
}
function logMinors(lo, hi) {
  const out = [];
  for (let d = Math.floor(lo); d <= Math.ceil(hi); d++) {
    for (let m = 2; m < 10; m++) {
      const v = d + Math.log10(m);
      if (v > lo && v < hi) out.push(v);
    }
  }
  return out;
}
function histBar(x, y, w, h) {
  if (w <= 0 || h <= 0) return;
  const el = mk("hists", "rect", {x: x, y: y, width: w, height: h, fill: "#40049b"});
  
  
}
function medianLine(x1, y1, x2, y2) {
  const el = mk("hists", "line", {x1: x1, y1: y1, x2: x2, y2: y2, stroke: "#f40a0a", "stroke-width": 2.4, "stroke-dasharray": "8 3.5"});
  
  
}

// Left scatter
for (let i = 0; i < lxRedshift.length; i++) {
  const x = xL(lxRedshift[i]);
  const bar = mk("left-errors", "line", {x1: x, x2: x, y1: yL(lxLogLum[i] + lxLogErr[i]), y2: yL(lxLogLum[i] - lxLogErr[i]), stroke: "#000", "stroke-opacity": 0.2, "stroke-width": 2.2});
  
  
  const dot = mk("left-points", "circle", {cx: x, cy: yL(lxLogLum[i]), r: POINT_RADIUS, fill: plasma((lxLogConc[i] - 1.005) / 3.142)});
  
  
}

// Right scatter
for (let i = 0; i < cLogMass.length; i++) {
  const m = cLogMass[i], c = cLogConc[i], rel = cConcRelErr[i];
  const hb = mk("right-errors", "line", {x1: xR(m - cMassErr[i]), x2: xR(m + cMassErr[i]), y1: yR(c), y2: yR(c), stroke: "#000", "stroke-opacity": 0.18, "stroke-width": 2.2});
  
  
  const vb = mk("right-errors", "line", {x1: xR(m), x2: xR(m), y1: yR(c + Math.log10(1 + rel)), y2: yR(c + Math.log10(1 - rel)), stroke: "#000", "stroke-opacity": 0.18, "stroke-width": 2.2});
  
  
  const dot = mk("right-points", "circle", {cx: xR(m), cy: yR(c), r: POINT_RADIUS, fill: plasma((cRedshift[i] - 0.0032) / 0.4728)});
  
  
}

// Histograms
const lxZStart = 0.0035, lxZStep = 0.02373;
lxTopCounts.forEach((n, i) => histBar(xL(lxZStart + i * lxZStep), lxTopY(n), xL(lxZStart + (i + 1) * lxZStep) - xL(lxZStart + i * lxZStep) + 0.2, 63 - lxTopY(n)));
const lxLumTop = 43.136, lxLumStep = 0.1267;
lxSideCounts.forEach((n, i) => histBar(451, yL(lxLumTop - i * lxLumStep), lxSideX(n) - 451, yL(lxLumTop - (i + 1) * lxLumStep) - yL(lxLumTop - i * lxLumStep) + 0.2));
const cMassStart = 12.33, cMassStep = 0.0837;
cTopCounts.forEach((n, i) => histBar(xR(cMassStart + i * cMassStep), cTopY(n), xR(cMassStart + (i + 1) * cMassStep) - xR(cMassStart + i * cMassStep) + 0.2, 49.7 - cTopY(n)));
const cConcStart = 1.0, cConcStep = 0.158;
cSideCounts.forEach((n, i) => histBar(1065, yR(cConcStart + (i + 1) * cConcStep), cSideX(n) - 1065, yR(cConcStart + i * cConcStep) - yR(cConcStart + (i + 1) * cConcStep) + 0.2));
medianLine(xL(lxMedianZ[0]), 18, xL(lxMedianZ[0]), 63);
medianLine(451, yL(lxMedianLum[0]), 496, yL(lxMedianLum[0]));
medianLine(xR(cMedianMass[0]), 3, xR(cMedianMass[0]), 49.7);
medianLine(1065, yR(cMedianConc[0]), 1111.5, yR(cMedianConc[0]));

// Left ticks
lxXTicks.forEach((t, i) => {
  tickLine(xL(t), 438, xL(t), 443.5);
  tickLine(xL(t), 63, xL(t), 68.5);
  label(xL(t), 464, lxXTickLabels[i], "middle");
});
lxYTicks.forEach((t, i) => {
  tickLine(82, yL(t), 76, yL(t));
  tickLine(451, yL(t), 445, yL(t));
  powLabel(68, yL(t) + 6.3, lxYTickLabels[i], "end");
});
logMinors(40.33, 43.475).forEach(v => {
  tickLine(82, yL(v), 78.5, yL(v), 0.9);
  tickLine(451, yL(v), 447.5, yL(v), 0.9);
});
lxTopTicks.forEach((t, i) => {
  tickLine(82, lxTopY(t), 76, lxTopY(t));
  label(70, lxTopY(t) + 6.3, lxTopLabels[i], "end");
});
lxSideTicks.forEach((t, i) => {
  tickLine(lxSideX(t), 438, lxSideX(t), 443.5);
  label(lxSideX(t), 464, lxSideLabels[i], "middle");
});
lxCbarTicks.forEach((t, i) => {
  tickLine(521, cbL(t), 527, cbL(t));
  label(534, cbL(t) + 6.3, lxCbarLabels[i], "start");
});

// Right ticks
cXTicks.forEach((t, i) => {
  tickLine(xR(t), 433.3, xR(t), 439);
  tickLine(xR(t), 49.7, xR(t), 55.5);
  powLabel(xR(t) - 1, 461, cXTickLabels[i], "middle");
});
logMinors(12.136, 14.275).forEach(v => {
  tickLine(xR(v), 433.3, xR(v), 436.8, 0.9);
  tickLine(xR(v), 49.7, xR(v), 53.2, 0.9);
});
cYTicks.forEach((t, i) => {
  tickLine(687.3, yR(t), 681.3, yR(t));
  tickLine(1065, yR(t), 1059, yR(t));
  powLabel(674, yR(t) + 7, cYTickLabels[i], "end");
});
logMinors(0.122, 4.375).forEach(v => {
  tickLine(687.3, yR(v), 683.8, yR(v), 0.9);
  tickLine(1065, yR(v), 1061.5, yR(v), 0.9);
});
cTopTicks.forEach((t, i) => {
  tickLine(687.3, cTopY(t), 681.3, cTopY(t));
  label(675, cTopY(t) + 6.3, cTopLabels[i], "end");
});
cSideTicks.forEach((t, i) => {
  tickLine(cSideX(t), 433.3, cSideX(t), 439);
  label(cSideX(t), 460, cSideLabels[i], "middle");
});
cCbarTicks.forEach((t, i) => {
  tickLine(1137.5, cbR(t), 1143.5, cbR(t));
  label(1150, cbR(t) + 6.3, cCbarLabels[i], "start");
});
</script>
</body>
</html>
